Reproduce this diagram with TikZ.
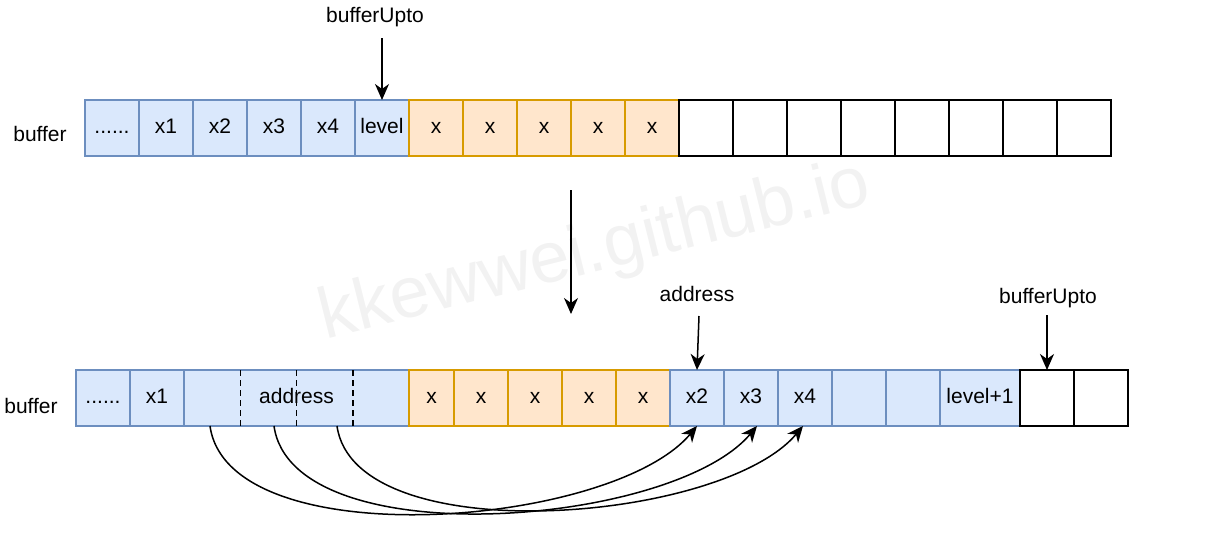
\documentclass[tikz,border=0pt]{standalone}
\usepackage{fontspec}
\setmainfont{Liberation Sans}
\usetikzlibrary{positioning}
\usetikzlibrary{calc}
\usetikzlibrary{arrows.meta}
\definecolor{bluefill}{HTML}{DAE8FC}
\definecolor{blueline}{HTML}{6C8EBF}
\definecolor{orangefill}{HTML}{FFE6CC}
\definecolor{orangeline}{HTML}{D79B00}

\begin{document}
\begin{tikzpicture}[->,>={Stealth[length=16pt,width=14pt,inset=5pt]},x=1pt,y=1pt,line width=1.5pt,
			font=\fontsize{21}{25}\selectfont]
			\tikzstyle{cell}=[draw,minimum width=54pt,minimum height=56pt,inner sep=0pt,outer sep=0pt,text height=15pt,text depth=4pt]
			\tikzstyle{bcell}=[cell,draw=blueline,fill=bluefill]
			\tikzstyle{ocell}=[cell,draw=orangeline,fill=orangefill]
			\tikzstyle{wcell}=[cell,draw=black,fill=white]
			\tikzstyle{copy}=[out=-82,in=-130,looseness=0.7]
			
			\useasboundingbox (0,0) rectangle (1218,-536);
			
			% watermark
			\node[text=black!5,font=\fontsize{72}{80}\selectfont,rotate=14,anchor=base west] (wm) at (322,-340) {kkewwei.github.io};
			
			% buffer before
			\node               (buf1) at (40,-134)    {buffer};
			\node[bcell]        (t0) at (112,-128)     {......};
			\node[bcell]        (t1) [right=0pt of t0] {x1};
			\node[bcell]        (t2) [right=0pt of t1] {x2};
			\node[bcell]        (t3) [right=0pt of t2] {x3};
			\node[bcell]        (t4) [right=0pt of t3] {x4};
			\node[bcell]        (t5) [right=0pt of t4] {level};
			\node[ocell]        (t6) [right=0pt of t5] {x};
			\node[ocell]        (t7) [right=0pt of t6] {x};
			\node[ocell]        (t8) [right=0pt of t7] {x};
			\node[ocell]        (t9) [right=0pt of t8] {x};
			\node[ocell]        (t10) [right=0pt of t9] {x};
			\node[wcell]        (t11) [right=0pt of t10] {};
			\node[wcell]        (t12) [right=0pt of t11] {};
			\node[wcell]        (t13) [right=0pt of t12] {};
			\node[wcell]        (t14) [right=0pt of t13] {};
			\node[wcell]        (t15) [right=0pt of t14] {};
			\node[wcell]        (t16) [right=0pt of t15] {};
			\node[wcell]        (t17) [right=0pt of t16] {};
			\node[wcell]        (t18) [right=0pt of t17] {};
			
			% buffer after
			\node               (buf2) at (31,-406)    {buffer};
			\node[bcell]        (b0) at (103,-398)     {......};
			\node[bcell]        (b1) [right=0pt of b0] {x1};
			\node[bcell,minimum width=225pt] (addr) [right=0pt of b1] {address};
			\node[ocell,minimum width=45pt]  (b3) [right=0pt of addr] {x};
			\node[ocell]        (b4) [right=0pt of b3] {x};
			\node[ocell]        (b5) [right=0pt of b4] {x};
			\node[ocell]        (b6) [right=0pt of b5] {x};
			\node[ocell]        (b7) [right=0pt of b6] {x};
			\node[bcell]        (b8) [right=0pt of b7] {x2};
			\node[bcell]        (b9) [right=0pt of b8] {x3};
			\node[bcell]        (b10) [right=0pt of b9] {x4};
			\node[bcell]        (b11) [right=0pt of b10] {};
			\node[bcell]        (b12) [right=0pt of b11] {};
			\node[bcell,minimum width=80pt]  (b13) [right=0pt of b12] {level+1};
			\node[wcell]        (b14) [right=0pt of b13] {};
			\node[wcell]        (b15) [right=0pt of b14] {};
			
			\draw[-,dash pattern=on 6pt off 4pt] ($(addr.north west)!0.25!(addr.north east)$) -- ($(addr.south west)!0.25!(addr.south east)$);
			\draw[-,dash pattern=on 6pt off 4pt] ($(addr.north west)!0.5!(addr.north east)$) -- ($(addr.south west)!0.5!(addr.south east)$);
			\draw[-,dash pattern=on 6pt off 4pt] ($(addr.north west)!0.75!(addr.north east)$) -- ($(addr.south west)!0.75!(addr.south east)$);
			
			% pointers
			\node               (upto1) at (375,-17)   {bufferUpto};
			\node               (adlbl) at (697,-294)  {address};
			\node               (upto2) at (1048,-298) {bufferUpto};
			\coordinate[above=62pt of t5.north] (p1);
			\coordinate (p2) at (571,-190);
			\coordinate (p3) at (571,-314);
			\coordinate (p4) at (699,-316);
			\coordinate[above=55pt of b14.north] (p5);
			
			\path (p1) edge (t5.north)
			(p2) edge (p3)
			(p4) edge (b8.north)
			(p5) edge (b14.north)
			([xshift=26pt]addr.south west)  edge [copy] (b8.south)
			([xshift=90pt]addr.south west)  edge [copy] ([xshift=6pt]b9.south)
			([xshift=153pt]addr.south west) edge [copy] ([xshift=-2pt]b10.south)
			;
\end{tikzpicture}
\end{document}
